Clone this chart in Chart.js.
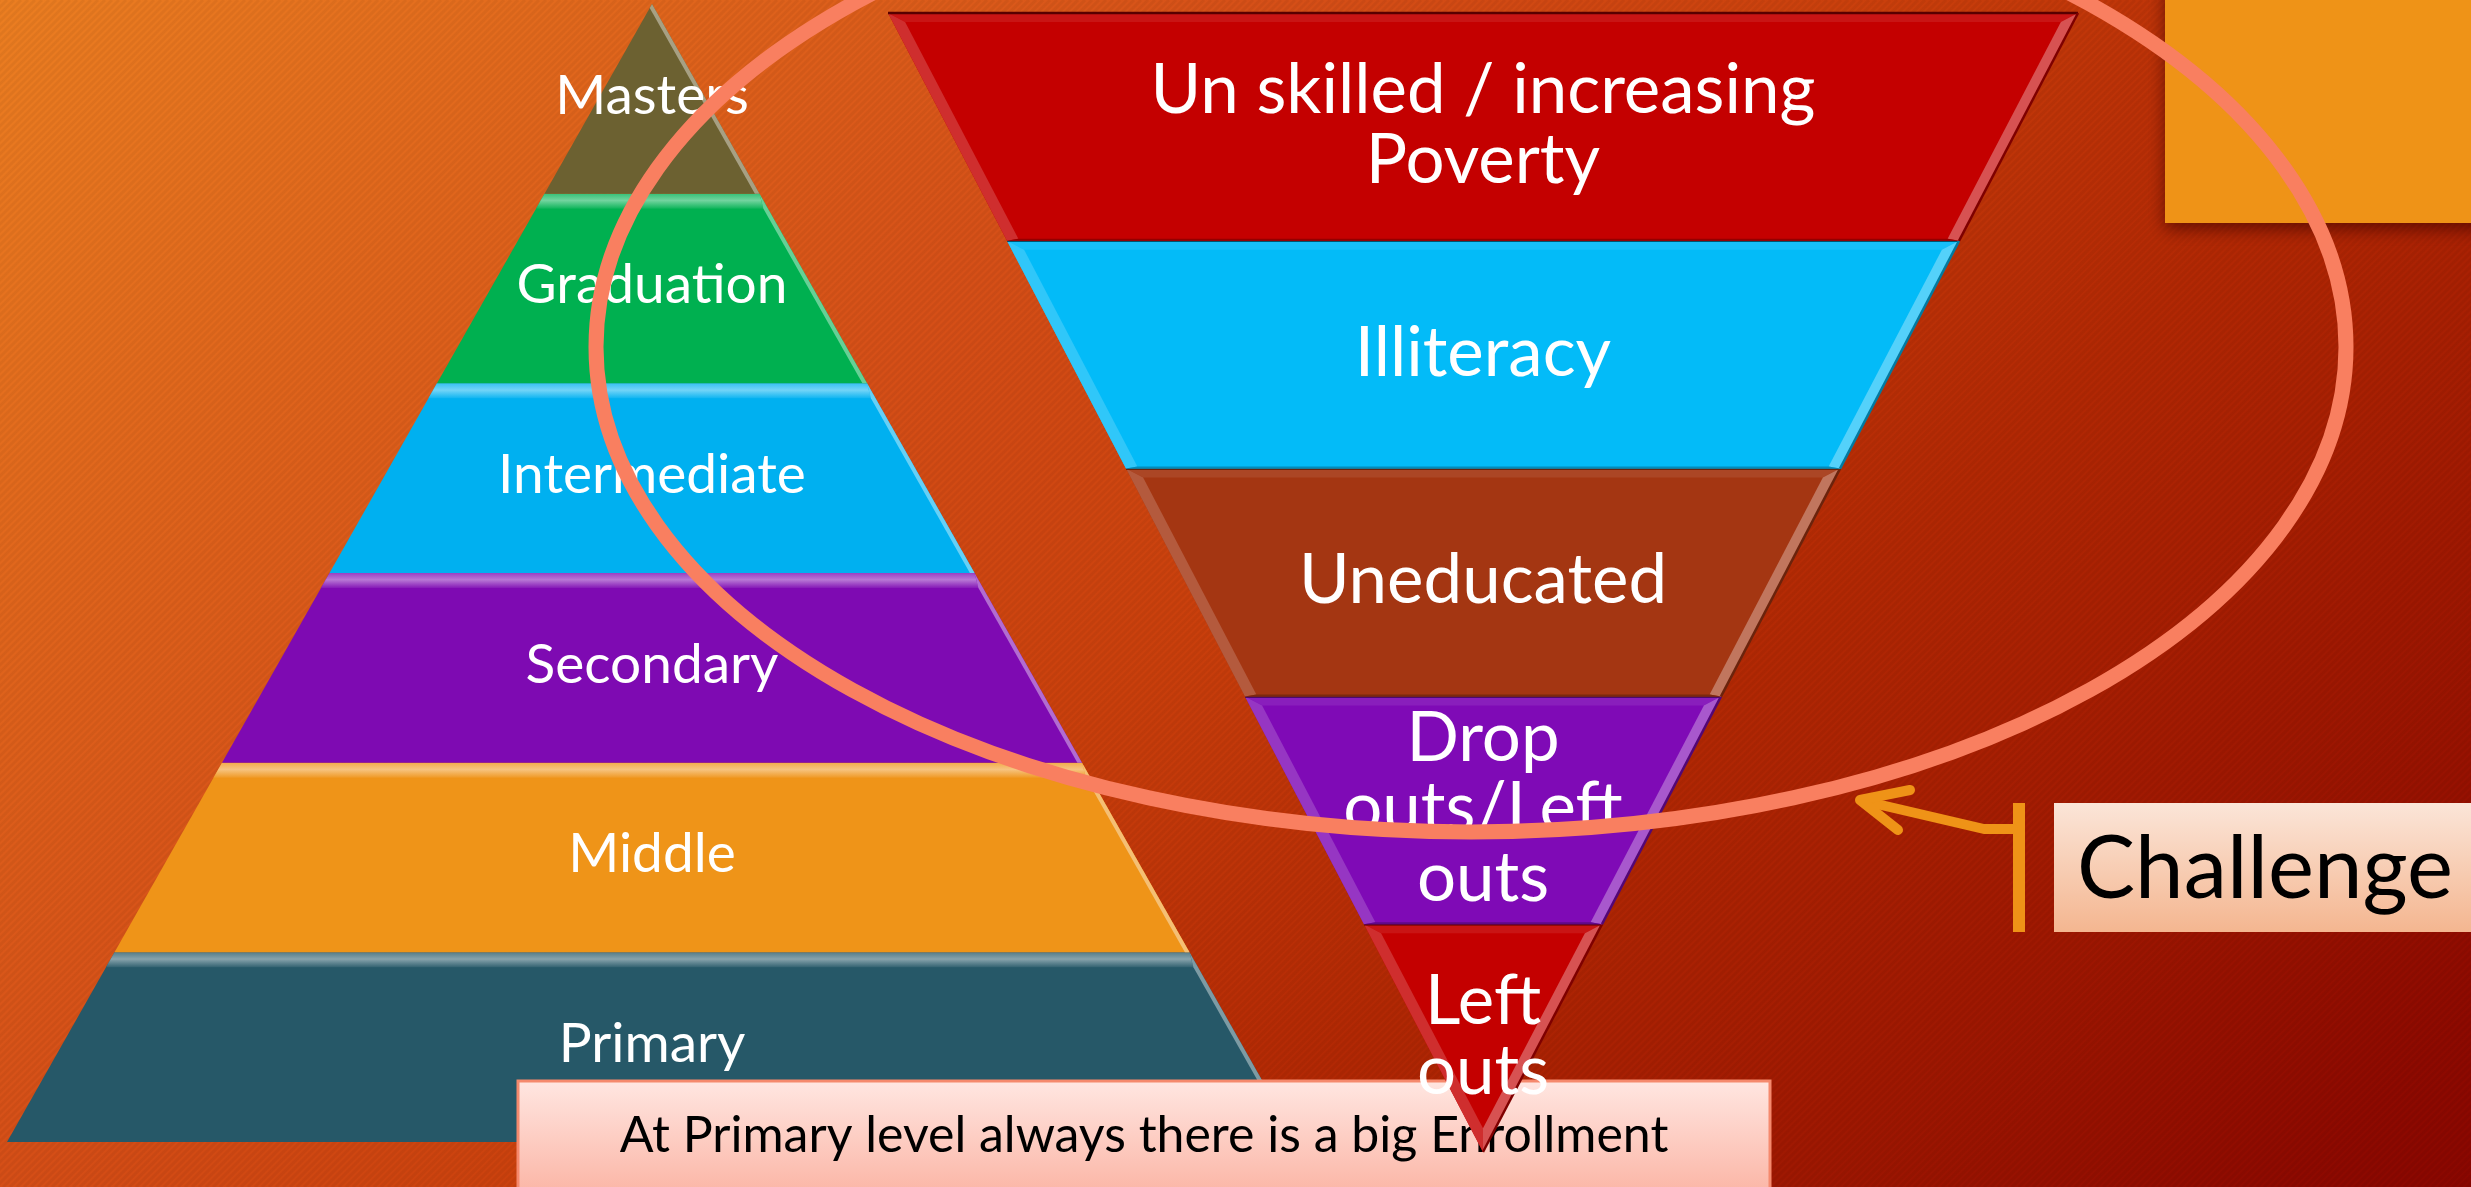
<!DOCTYPE html>
<html><head><meta charset="utf-8">
<script src="https://cdn.jsdelivr.net/npm/chart.js@4.4.0/dist/chart.umd.min.js"></script>
<style>html,body{margin:0;padding:0;background:#c53f0c;overflow:hidden}canvas{display:block}</style>
</head><body>
<canvas id="c" width="2471" height="1187"></canvas>
<script>
// ---------------- data ----------------
const leftLevels  = ['Masters', 'Graduation', 'Intermediate', 'Secondary', 'Middle', 'Primary'];
const leftColors  = ['#6C6131', '#00B050', '#00B0F0', '#7E0AB2', '#EF9418', '#265868'];
const rightLevels = ['Un skilled / increasing\nPoverty', 'Illiteracy', 'Uneducated', 'Drop\nouts/Left\nouts', 'Left\nouts'];
const rightColors = ['#C40000', '#03BBF8', '#A43612', '#7F0AB6', '#C40000'];
const noteText    = 'At Primary level always there is a big Enrollment';
const calloutText = 'Challenge';

// ---------------- layout (units of the hidden linear scales) ----------------
const W = 2471, H = 1187;
const LP = {cx: 652, apexY: 4, baseY: 1142, baseHalf: 645};
const RP = {cx: 1483, topY: 13, apexY: 1152, topHalf: 595};
const FONT = 'Lato, "Open Sans", sans-serif';

function leftLayer(i) {
  const n = leftLevels.length, h = (LP.baseY - LP.apexY) / n;
  const y0 = LP.apexY + i * h, y1 = y0 + h;
  const hw = y => (y - LP.apexY) / (LP.baseY - LP.apexY) * LP.baseHalf;
  return [{x: LP.cx - hw(y0), y: y0}, {x: LP.cx + hw(y0), y: y0},
          {x: LP.cx + hw(y1), y: y1}, {x: LP.cx - hw(y1), y: y1}, {x: LP.cx - hw(y0), y: y0}];
}
function rightLayer(i) {
  const n = rightLevels.length, h = (RP.apexY - RP.topY) / n;
  const y0 = RP.topY + i * h, y1 = y0 + h;
  const hw = y => (RP.apexY - y) / (RP.apexY - RP.topY) * RP.topHalf;
  return [{x: RP.cx - hw(y0), y: y0}, {x: RP.cx + hw(y0), y: y0},
          {x: RP.cx + hw(y1), y: y1}, {x: RP.cx - hw(y1), y: y1}, {x: RP.cx - hw(y0), y: y0}];
}

const datasets = [];
leftLevels.forEach((name, i) => datasets.push({
  type: 'line', label: name, data: leftLayer(i), backgroundColor: leftColors[i],
  borderColor: 'rgba(0,0,0,0)', borderWidth: 0, fill: 'shape', pointRadius: 0, tension: 0,
  order: 2, group: 'L', idx: i
}));
rightLevels.forEach((name, i) => datasets.push({
  type: 'line', label: name, data: rightLayer(i), backgroundColor: rightColors[i],
  borderColor: 'rgba(0,0,0,0)', borderWidth: 0, fill: 'shape', pointRadius: 0, tension: 0,
  order: 1, group: 'R', idx: i
}));

// ---------------- helpers ----------------
function parseHex(h) { h = h.replace('#', ''); return [0, 2, 4].map(k => parseInt(h.substr(k, 2), 16)); }
function mix(c, c2, t) {
  const a = parseHex(c), b = parseHex(c2);
  return 'rgb(' + a.map((v, k) => Math.round(v + (b[k] - v) * t)).join(',') + ')';
}
function edgeX(A, B, y) { return A.x + (B.x - A.x) * (y - A.y) / (B.y - A.y); }
function kf(A, B) { const s = (B.x - A.x) / (B.y - A.y); return Math.sqrt(1 + s * s); }
function inset(P, dT, dR, dB, dL) {
  const [TL, TR, BR, BL] = P;
  const kl = kf(TL, BL), kr = kf(TR, BR);
  const lx = y => edgeX(TL, BL, y) + dL * kl;
  const rx = y => edgeX(TR, BR, y) - dR * kr;
  const w = y => rx(y) - lx(y);
  const solve = () => { const w0 = w(TL.y), w1 = w(BL.y); return TL.y + (0 - w0) / (w1 - w0) * (BL.y - TL.y); };
  let yT = TL.y + dT, yB = BL.y - dB;
  if (w(yT) < 0) yT = solve();
  if (w(yB) < 0) yB = solve();
  return [{x: lx(yT), y: yT}, {x: rx(yT), y: yT}, {x: rx(yB), y: yB}, {x: lx(yB), y: yB}];
}
function quad(ctx, a, b, c, d, fill) {
  ctx.beginPath(); ctx.moveTo(a.x, a.y); ctx.lineTo(b.x, b.y); ctx.lineTo(c.x, c.y); ctx.lineTo(d.x, d.y);
  ctx.closePath(); ctx.fillStyle = fill; ctx.fill();
}
function drawLines(ctx, lines, x, yc, size, spacing, color) {
  ctx.save();
  ctx.font = size + 'px ' + FONT; ctx.fillStyle = color; ctx.textAlign = 'center'; ctx.textBaseline = 'alphabetic';
  const n = lines.length;
  lines.forEach((t, k) => ctx.fillText(t, x, yc + (k - (n - 1) / 2) * spacing + 0.36 * size));
  ctx.restore();
}

// ---------------- plugins ----------------
const bgPlugin = {
  id: 'bg',
  beforeDraw(chart) {
    const ctx = chart.ctx;
    ctx.save();
    const g = ctx.createLinearGradient(0, 0, 1709, 1880);
    g.addColorStop(0, '#EB7E21');
    g.addColorStop(0.33, '#D65018');
    g.addColorStop(0.5, '#C93F0C');
    g.addColorStop(0.66, '#B22804');
    g.addColorStop(0.95, '#8E0A00');
    g.addColorStop(1, '#8A0700');
    ctx.fillStyle = g; ctx.fillRect(0, 0, W, H);
    ctx.strokeStyle = 'rgba(0,0,0,0.045)'; ctx.lineWidth = 3;
    ctx.beginPath();
    for (let k = -H; k < W + H; k += 7) { ctx.moveTo(k, H); ctx.lineTo(k + H, 0); }
    ctx.stroke();
    // orange block top right
    const xs = chart.scales.x, ys = chart.scales.y;
    ctx.shadowColor = 'rgba(60,0,0,0.65)'; ctx.shadowBlur = 16; ctx.shadowOffsetY = 6;
    ctx.fillStyle = '#EF9317';
    const x0 = xs.getPixelForValue(2165), y1 = ys.getPixelForValue(223);
    ctx.fillRect(x0, -20, W - x0 + 20, y1 + 20);
    ctx.restore();
  }
};

let leftDrawn = 0;
function drawNote(chart) {
  const ctx = chart.ctx, xs = chart.scales.x, ys = chart.scales.y;
  const x0 = xs.getPixelForValue(518), x1 = xs.getPixelForValue(1770);
  const y0 = ys.getPixelForValue(1081), y1 = ys.getPixelForValue(1187);
  ctx.save();
  const g = ctx.createLinearGradient(0, y0, 0, y1 + 10);
  g.addColorStop(0, '#FFE6E1'); g.addColorStop(1, '#FBB4A4');
  ctx.fillStyle = g; ctx.fillRect(x0, y0, x1 - x0, y1 - y0 + 10);
  ctx.strokeStyle = '#F5896D'; ctx.lineWidth = 3;
  ctx.strokeRect(x0, y0, x1 - x0, y1 - y0 + 10);
  ctx.restore();
  drawLines(ctx, [noteText], (x0 + x1) / 2, ys.getPixelForValue(1134), 50, 0, '#000');
}

const layerPlugin = {
  id: 'layers',
  beforeDatasetsDraw() { leftDrawn = 0; },
  afterDatasetDraw(chart, args) {
    const ds = chart.data.datasets[args.index];
    const ctx = chart.ctx;
    const P = args.meta.data.slice(0, 4).map(p => ({x: p.x, y: p.y}));
    const c = ds.backgroundColor;
    ctx.save();
    if (ds.group === 'L') {
      const isTop = ds.idx === 0;
      const I = inset(P, isTop ? 0 : 15, 4, 0, 0);
      if (!isTop) {
        const g = ctx.createLinearGradient(0, P[0].y, 0, I[0].y);
        g.addColorStop(0, mix(c, '#ffffff', 0.22));
        g.addColorStop(0.45, mix(c, '#ffffff', 0.45));
        g.addColorStop(1, mix(c, '#ffffff', 0.06));
        quad(ctx, P[0], P[1], I[1], I[0], g);
      }
      quad(ctx, P[1], P[2], I[2], I[1], mix(c, '#ffffff', 0.4));
      ctx.restore();
      drawLines(ctx, [leftLevels[ds.idx]], (P[0].x + P[1].x) / 2, (P[0].y + P[3].y) / 2 - 5, 55, 0, '#ffffff');
      leftDrawn++;
      if (leftDrawn === leftLevels.length) drawNote(chart);
    } else {
      const I = inset(P, 9, 11, 2, 11);
      quad(ctx, P[0], P[1], I[1], I[0], mix(c, '#ffffff', 0.08));
      quad(ctx, P[3], P[0], I[0], I[3], mix(c, '#ffffff', 0.18));
      quad(ctx, P[1], P[2], I[2], I[1], mix(c, '#ffffff', 0.32));
      quad(ctx, P[2], P[3], I[3], I[2], mix(c, '#000000', 0.25));
      ctx.lineWidth = 2.5;
      ctx.strokeStyle = mix(c, '#000000', 0.55);
      ctx.beginPath(); ctx.moveTo(P[0].x, P[0].y); ctx.lineTo(P[1].x, P[1].y); ctx.stroke();
      ctx.strokeStyle = mix(c, '#000000', 0.35);
      ctx.beginPath(); ctx.moveTo(P[1].x, P[1].y); ctx.lineTo(P[2].x, P[2].y); ctx.stroke();
      ctx.restore();
      drawLines(ctx, rightLevels[ds.idx].split('\n'), (P[0].x + P[1].x) / 2, (P[0].y + P[3].y) / 2 - 4, 69, 70, '#ffffff');
    }
  },
  afterDatasetsDraw(chart) {
    const ctx = chart.ctx, xs = chart.scales.x, ys = chart.scales.y;
    const px = v => xs.getPixelForValue(v), py = v => ys.getPixelForValue(v);
    ctx.save();
    // highlight ellipse
    ctx.strokeStyle = '#F97F60'; ctx.lineWidth = 15;
    ctx.beginPath();
    ctx.ellipse(px(1471), py(347), px(1471 + 875) - px(1471), py(347 + 485) - py(347), 0, 0, Math.PI * 2);
    ctx.stroke();
    // callout accent bar + arrow
    ctx.strokeStyle = '#EF9317';
    ctx.lineWidth = 12; ctx.lineCap = 'butt';
    ctx.beginPath(); ctx.moveTo(px(2019), py(803)); ctx.lineTo(px(2019), py(932)); ctx.stroke();
    ctx.lineWidth = 10; ctx.lineJoin = 'round'; ctx.lineCap = 'round';
    ctx.beginPath(); ctx.moveTo(px(2013), py(829)); ctx.lineTo(px(1984), py(829)); ctx.lineTo(px(1864), py(801)); ctx.stroke();
    ctx.beginPath(); ctx.moveTo(px(1910), py(790)); ctx.lineTo(px(1860), py(800)); ctx.lineTo(px(1898), py(830)); ctx.stroke();
    // callout box
    const bx = px(2054), by0 = py(803), by1 = py(932);
    const g = ctx.createLinearGradient(0, by0, 0, by1);
    g.addColorStop(0, '#FBE5D8'); g.addColorStop(1, '#F4B690');
    ctx.fillStyle = g; ctx.fillRect(bx, by0, W - bx + 5, by1 - by0);
    ctx.font = '87px ' + FONT; ctx.fillStyle = '#000'; ctx.textAlign = 'left'; ctx.textBaseline = 'alphabetic';
    ctx.fillText(calloutText, px(2077), py(867) + 0.36 * 87);
    ctx.restore();
  }
};

new Chart(document.getElementById('c'), {
  type: 'line',
  data: {datasets},
  options: {
    responsive: false, animation: false, devicePixelRatio: 1,
    layout: {padding: 0},
    scales: {
      x: {type: 'linear', min: 0, max: W, display: false},
      y: {type: 'linear', min: 0, max: H, reverse: true, display: false}
    },
    plugins: {legend: {display: false}, tooltip: {enabled: false}},
    elements: {point: {radius: 0}, line: {tension: 0}}
  },
  plugins: [bgPlugin, layerPlugin]
});
</script>
</body></html>
